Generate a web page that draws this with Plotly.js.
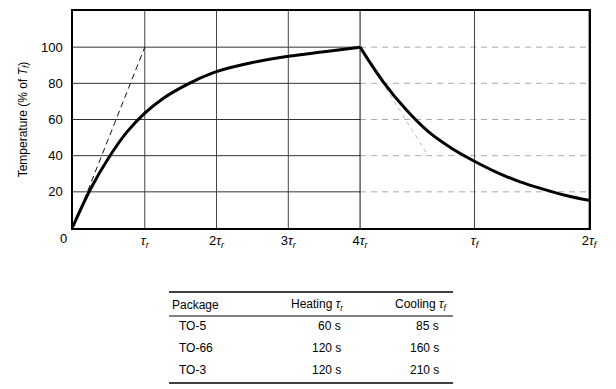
<!DOCTYPE html>
<html>
<head>
<meta charset="utf-8">
<script src="https://cdn.plot.ly/plotly-3.0.1.min.js"></script>
<style>html,body{margin:0;padding:0;background:#fff;}#chart{width:616px;height:389px;}</style>
</head>
<body>
<div id="chart"></div>
<script>
// ---- data ----
// x axis in units of the heating time constant tau_r; cooling part starts at 4 tau_r
const heatX = [0, 0.25, 0.5, 0.75, 1, 1.25, 1.5, 1.75, 2, 2.5, 3, 3.5, 4];
const heatY = [1, 22, 39, 53, 63.5, 71.5, 77.5, 82.5, 86.5, 91.5, 95, 97.5, 100];
const coolX = [4, 4.32, 4.64, 4.96, 5.28, 5.6, 5.92, 6.23, 6.55, 6.87, 7.19];
const coolY = [100, 81, 65.5, 53, 44, 36.8, 30.5, 25.5, 21.5, 18, 15.3];
const heatTangentX = [0, 1];
const heatTangentY = [0, 100];
const coolTangentX = [4, 4.95];
const coolTangentY = [100, 40];
const xTickVals = [1, 2, 3, 4, 5.595, 7.19];
const xTickText = ['<i>τ<sub>r</sub></i>', '2<i>τ<sub>r</sub></i>', '3<i>τ<sub>r</sub></i>', '4<i>τ<sub>r</sub></i>', '<i>τ<sub>f</sub></i>', '2<i>τ<sub>f</sub></i>'];
const yTickVals = [20, 40, 60, 80, 100];
const xMax = 7.19;
const yMax = 120;

const packages = ['TO-5', 'TO-66', 'TO-3'];
const heatingTau = [60, 120, 120];
const coolingTau = [85, 160, 210];
const tableHeaders = ['Package', 'Heating <i>τ<sub>r</sub></i>', 'Cooling <i>τ<sub>f</sub></i>'];

// ---- layout helpers ----
const W = 616, H = 389, L = 73, R = 27, T = 11, B = 161;
const PW = W - L - R, PH = H - T - B;
const px = x => (x - L) / PW;
const py = y => (H - B - y) / PH;
const FONT = '"Liberation Sans", Arial, Helvetica, sans-serif';

const traces = [
  {x: heatTangentX, y: heatTangentY, mode: 'lines', line: {color: '#111', width: 1, dash: '6px,4px'}, hoverinfo: 'skip'},
  {x: coolTangentX, y: coolTangentY, mode: 'lines', line: {color: '#bbb', width: 1, dash: '4px,4px'}, hoverinfo: 'skip'},
  {x: heatX, y: heatY, mode: 'lines', line: {color: '#000', width: 3, shape: 'spline', smoothing: 1}},
  {x: coolX, y: coolY, mode: 'lines', line: {color: '#000', width: 3, shape: 'spline', smoothing: 1}}
];

const shapes = [];
yTickVals.forEach(v => {
  shapes.push({type: 'line', layer: 'below', xref: 'x', yref: 'y', x0: 0, x1: 4, y0: v, y1: v, line: {color: '#333', width: 1}});
  shapes.push({type: 'line', layer: 'below', xref: 'x', yref: 'y', x0: 4, x1: xMax, y0: v, y1: v, line: {color: '#aaa', width: 1, dash: '6px,5px'}});
});
xTickVals.forEach(v => {
  shapes.push({type: 'line', layer: 'below', xref: 'x', yref: 'y', x0: v, x1: v, y0: 0, y1: yMax, line: {color: v === 4 ? '#111' : '#444', width: 1}});
});
// table rules
shapes.push({type: 'line', xref: 'paper', yref: 'paper', x0: px(169), x1: px(453), y0: py(292), y1: py(292), line: {color: '#000', width: 1.5}});
shapes.push({type: 'line', xref: 'paper', yref: 'paper', x0: px(169), x1: px(453), y0: py(316), y1: py(316), line: {color: '#000', width: 1}});
shapes.push({type: 'line', xref: 'paper', yref: 'paper', x0: px(169), x1: px(453), y0: py(383), y1: py(383), line: {color: '#000', width: 1.5}});

const annotations = [];
const tf = {family: FONT, size: 12, color: '#000'};
annotations.push({xref: 'x', yref: 'y', x: 0, y: 0, text: '0', showarrow: false, xshift: -10, yshift: -10, font: {family: FONT, size: 13, color: '#000'}});
annotations.push({xref: 'paper', yref: 'paper', x: px(170), y: py(305), xanchor: 'left', yanchor: 'middle', text: tableHeaders[0], showarrow: false, font: tf});
annotations.push({xref: 'paper', yref: 'paper', x: px(346), y: py(305), xanchor: 'right', yanchor: 'middle', text: tableHeaders[1], showarrow: false, font: tf});
annotations.push({xref: 'paper', yref: 'paper', x: px(450), y: py(305), xanchor: 'right', yanchor: 'middle', text: tableHeaders[2], showarrow: false, font: tf});
const rowY = [326, 348, 370];
packages.forEach((p, i) => {
  annotations.push({xref: 'paper', yref: 'paper', x: px(177), y: py(rowY[i]), xanchor: 'left', yanchor: 'middle', text: p, showarrow: false, font: tf});
  annotations.push({xref: 'paper', yref: 'paper', x: px(343), y: py(rowY[i]), xanchor: 'right', yanchor: 'middle', text: heatingTau[i] + ' s', showarrow: false, font: tf});
  annotations.push({xref: 'paper', yref: 'paper', x: px(441), y: py(rowY[i]), xanchor: 'right', yanchor: 'middle', text: coolingTau[i] + ' s', showarrow: false, font: tf});
});

const layout = {
  width: W, height: H,
  margin: {l: L, r: R, t: T, b: B, pad: 0},
  paper_bgcolor: '#fff', plot_bgcolor: '#fff',
  showlegend: false,
  font: {family: FONT, size: 13, color: '#000'},
  xaxis: {
    range: [0, xMax], tickvals: xTickVals, ticktext: xTickText, showgrid: false, zeroline: false,
    showline: true, mirror: true, linecolor: '#000', linewidth: 1.5, ticks: '',
    tickfont: {family: FONT, size: 13, color: '#000'}, fixedrange: true
  },
  yaxis: {
    range: [0, yMax], tickvals: yTickVals, showgrid: false, zeroline: false,
    showline: true, mirror: true, linecolor: '#000', linewidth: 1.5, ticks: '',
    ticklabelstandoff: 6,
    tickfont: {family: FONT, size: 13, color: '#000'},
    title: {text: 'Temperature (% of <i>T<sub>f</sub></i>)', font: {family: FONT, size: 12, color: '#000'}, standoff: 11},
    fixedrange: true
  },
  shapes: shapes,
  annotations: annotations
};

Plotly.newPlot('chart', traces, layout, {displayModeBar: false});
</script>
</body>
</html>
